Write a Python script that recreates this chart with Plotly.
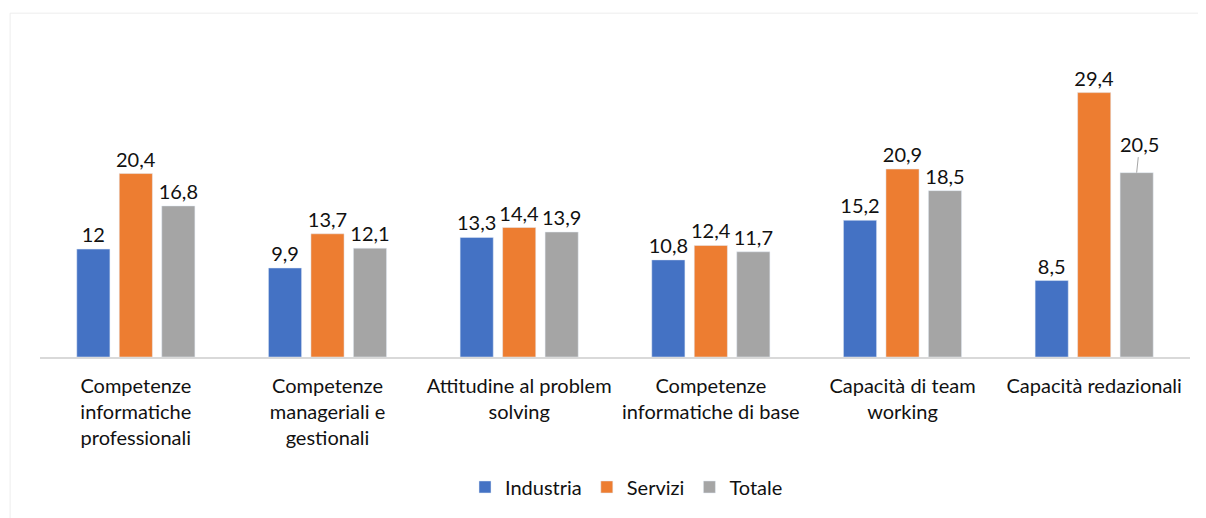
import plotly.graph_objects as go

categories = [
    "Competenze<br>informatiche<br>professionali",
    "Competenze<br>manageriali e<br>gestionali",
    "Attitudine al problem<br>solving",
    "Competenze<br>informatiche di base",
    "Capacità di team<br>working",
    "Capacità redazionali",
]
industria = [12, 9.9, 13.3, 10.8, 15.2, 8.5]
servizi = [20.4, 13.7, 14.4, 12.4, 20.9, 29.4]
totale = [16.8, 12.1, 13.9, 11.7, 18.5, 20.5]

FONT = "Lato"
TXT = "#111111"
FS = 20


def fmt(v):
    s = f"{v:g}"
    return s.replace(".", ",")


fig = go.Figure()
series = [("Industria", industria, "#4472C4"),
          ("Servizi", servizi, "#ED7D31"),
          ("Totale", totale, "#A5A5A5")]
for name, vals, col in series:
    labels = [fmt(v) for v in vals]
    if name == "Totale":
        labels[-1] = ""  # shown via callout below
    fig.add_trace(go.Bar(
        x=categories, y=vals, name=name, marker_color=col,
        text=labels, textposition="outside", cliponaxis=False,
        constraintext="none",
        textfont=dict(family=FONT, size=FS, color=TXT),
    ))

# callout label with leader line for the last Totale bar
fig.add_annotation(
    x=categories[-1], y=totale[-1], xshift=42.5,
    text=fmt(totale[-1]), showarrow=True, arrowhead=0,
    arrowwidth=1, arrowcolor="#A6A6A6", ax=3, ay=-29,
    font=dict(family=FONT, size=FS, color=TXT),
)

# page body adds an 8px margin, so the figure is sized/offset for that
fig.update_layout(
    width=1198, height=510,
    margin=dict(l=32, r=16, t=32, b=159),
    paper_bgcolor="white", plot_bgcolor="white",
    barmode="group", bargap=0.335, bargroupgap=0.22,
    font=dict(family=FONT, size=FS, color=TXT),
    showlegend=True,
    legend=dict(orientation="h", x=0.51, xanchor="center", y=-0.41,
                yanchor="middle", font=dict(family=FONT, size=FS, color=TXT),
                itemwidth=30, tracegroupgap=0),
    shapes=[dict(type="rect", xref="paper", yref="paper",
                 x0=-0.026, x1=1.013, y0=-0.6, y1=1.0846,
                 line=dict(color="#EDEDED", width=1), layer="below")],
)
fig.update_xaxes(showline=True, linecolor="#D9D9D9", linewidth=1.5,
                 showgrid=False, ticks="", ticklabelstandoff=10,
                 tickfont=dict(family=FONT, size=FS, color=TXT))
fig.update_yaxes(range=[0, 35.25], visible=False, showgrid=False)

fig.write_html("out.html")
